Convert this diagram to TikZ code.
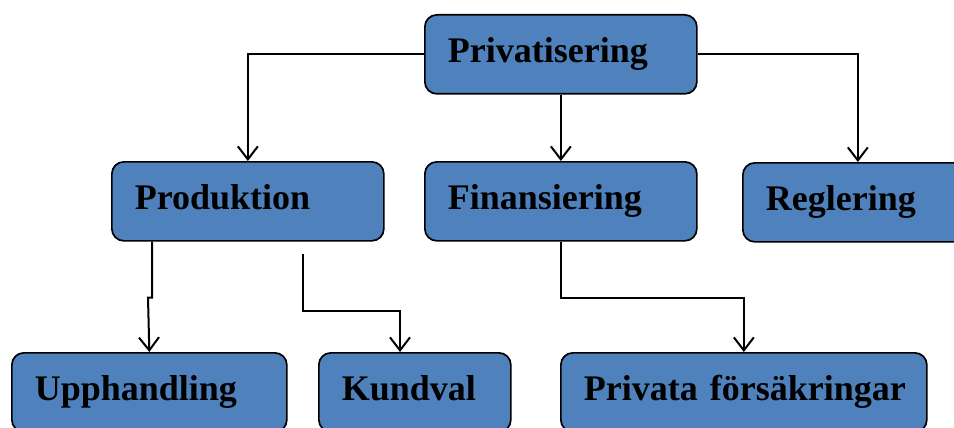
\documentclass[tikz,border=0pt]{standalone}
\usepackage{fontspec}
\setmainfont{Liberation Serif}
\usepackage{tikz}
\usetikzlibrary{arrows.meta,calc}
\definecolor{boxblue}{RGB}{79,129,189}

\begin{document}
\begin{tikzpicture}[x=1pt,y=-1pt,
		box/.style={draw=black,line width=1.7pt,fill=boxblue,rounded corners=12pt,
			minimum height=79pt,inner xsep=23pt,anchor=north west,align=left,
			text height=25pt,text depth=9pt,
			font=\fontsize{36}{40}\selectfont\bfseries},
		arr/.style={line width=2pt,-{Straight Barb[length=13pt,width=20pt]}}]
		\useasboundingbox (0,0) rectangle (954,428);

		% Top level
		\node[box,text width=226pt] (priv) at (424,14) {Privatisering};

		% Second level
		\node[box,text width=226pt] (prod) at (111,161) {Produktion};
		\node[box,text width=226pt] (fin) at (424,161) {Finansiering};
		\node[box,text width=184pt] (regl) at (742,162) {Reglering};

		% Third level
		\node[box,text width=229pt] (upph) at (11,352) {Upphandling};
		\node[box,text width=146pt] (kund) at (318,352) {Kundval};
		\node[box,text width=320pt] (pf) at (560,352) {Privata~försäkringar};

		% Connectors
		\draw[arr] (priv.west) -| (prod.north);
		\draw[arr] (priv.south) -- (fin.north);
		\draw[arr] (priv.east) -| (regl.north);
		\draw[arr] ([xshift=41pt]prod.south west) -- ++(0,56) -- ++(-4,0) -- (upph.north);
		\coordinate (kstart) at (303,254);
		\coordinate (kend) at ([xshift=82pt]kund.north west);
		\draw[arr] (kstart) -- ++(0,57) -| (kend);
		\draw[arr] (fin.south) -- ++(0,56) -| (pf.north);
	\end{tikzpicture}
\end{document}
